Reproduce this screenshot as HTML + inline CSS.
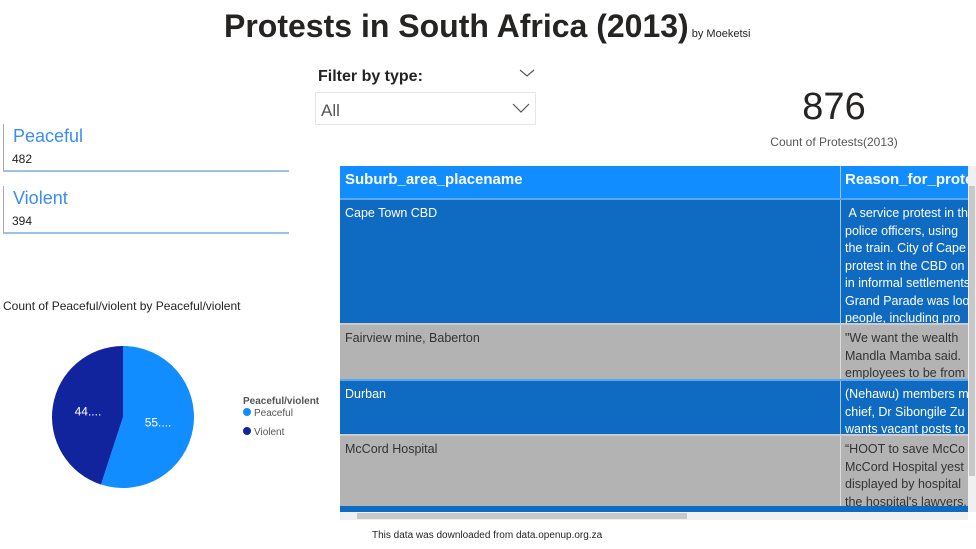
<!DOCTYPE html>
<html><head><meta charset="utf-8"><style>
body{margin:0;width:976px;height:549px;background:#fff;font-family:"Liberation Sans",sans-serif;position:relative;overflow:hidden}
.a{position:absolute}
.tbl{left:340px;top:166px;width:628px;height:346px;overflow:hidden}
.row{position:absolute;left:0;width:628px;color:#fff;font-size:12.5px;line-height:17.5px}
.c1{position:absolute;left:5px;top:5px}
.c2{position:absolute;left:505px;top:5px;white-space:nowrap;width:123px;overflow:hidden}
.div{position:absolute;left:500px;top:0;bottom:0;width:1px;background:#9fc6ec}
</style></head><body>
<div class="a" style="left:224px;top:8px;font-size:32px;font-weight:bold;color:#252423">Protests in South Africa (2013)<span style="font-size:11px;font-weight:normal"> by Moeketsi</span></div>
<div class="a" style="left:318px;top:68px;font-size:16px;font-weight:bold;color:#252423">Filter by type:</div>
<svg class="a" style="left:519px;top:68px" width="16" height="10"><polyline points="1,2 8,8 15,2" fill="none" stroke="#555" stroke-width="1.2"/></svg>
<div class="a" style="left:315px;top:92px;width:219px;height:31px;border:1px solid #e6e6e6">
<span style="position:absolute;left:5px;top:8px;font-size:17px;color:#555">All</span>
<svg style="position:absolute;left:196px;top:9px" width="18" height="12"><polyline points="1,2 9,10 17,2" fill="none" stroke="#555" stroke-width="1.2"/></svg></div>
<div class="a" style="left:770px;top:86px;width:128px;text-align:center;font-size:38px;color:#252423">876</div>
<div class="a" style="left:760px;top:135px;width:148px;text-align:center;font-size:12px;color:#555">Count of Protests(2013)</div>
<div class="a" style="left:3px;top:124px;width:285px;height:46px;border-left:1px solid #aaa;border-bottom:2px solid #9cc1e6">
<div style="position:absolute;left:9px;top:2px;font-size:18px;color:#3a8ef0">Peaceful</div><div style="position:absolute;left:8px;top:28px;font-size:12px;color:#222">482</div></div>
<div class="a" style="left:3px;top:186px;width:285px;height:46px;border-left:1px solid #aaa;border-bottom:2px solid #9cc1e6">
<div style="position:absolute;left:9px;top:2px;font-size:18px;color:#3a8ef0">Violent</div><div style="position:absolute;left:8px;top:28px;font-size:12px;color:#222">394</div></div>
<div class="a" style="left:3px;top:299px;font-size:12px;color:#252423">Count of Peaceful/violent by Peaceful/violent</div>
<svg class="a" id="pie" style="left:0;top:330px" width="340" height="180"></svg>
<div class="a tbl">
<div class="row" style="top:0;height:32px;background:#118dff;font-weight:bold;font-size:15px"><div class="c1" style="top:5px">Suburb_area_placename</div><div class="c2" style="top:5px">Reason_for_protest</div><div class="div"></div></div>
<div class="row" style="top:32px;height:124px;background:#0f6bc1;border-top:2px solid #5aa9f0"><div class="c1">Cape Town CBD</div><div class="c2">&nbsp;A service protest in the<br>police officers, using<br>the train. City of Cape<br>protest in the CBD on<br>in informal settlements<br>Grand Parade was loo<br>people, including pro</div><div class="div"></div></div>
<div class="row" style="top:157px;height:55px;background:#b3b3b3;color:#333;border-top:2px solid #ccc"><div class="c1">Fairview mine, Baberton</div><div class="c2">"We want the wealth<br>Mandla Mamba said.<br>employees to be from</div><div class="div" style="background:#ddd"></div></div>
<div class="row" style="top:213px;height:55px;background:#0f6bc1;border-top:2px solid #5aa9f0"><div class="c1">Durban</div><div class="c2">(Nehawu) members m<br>chief, Dr Sibongile Zu<br>wants vacant posts to</div><div class="div"></div></div>
<div class="row" style="top:268px;height:72px;background:#b3b3b3;color:#333;border-top:2px solid #ccc"><div class="c1">McCord Hospital</div><div class="c2">“HOOT to save McCo<br>McCord Hospital yest<br>displayed by hospital<br>the hospital's lawyers.</div><div class="div" style="background:#ddd"></div></div>
<div class="row" style="top:340px;height:6px;background:#0f6bc1"></div>
</div>
<div class="a" style="left:340px;top:512px;width:628px;height:8px;background:#f0f0f0"><div style="position:absolute;left:17px;top:1px;width:330px;height:6px;background:#c8c8c8"></div></div>
<div class="a" style="left:968px;top:166px;width:8px;height:346px;background:#f0f0f0"><div style="position:absolute;left:1px;top:20px;width:6px;height:290px;background:#c8c8c8"></div></div>
<div class="a" style="left:372px;top:530px;font-size:10px;color:#252423">This data was downloaded from data.openup.org.za</div>
<script>
const categories=["Peaceful","Violent"];
const counts=[482,394];
const colors=["#118dff","#12239e"];
const svg=document.getElementById('pie');const ns="http://www.w3.org/2000/svg";
const cx=123,cy=87,r=71;const total=counts.reduce((a,b)=>a+b,0);
let ang=0;
counts.forEach((v,i)=>{const a0=ang,a1=ang+v/total*2*Math.PI;ang=a1;
const p=(a)=>[cx+r*Math.sin(a),cy-r*Math.cos(a)];const s=p(a0),e=p(a1);
const path=document.createElementNS(ns,'path');
path.setAttribute('d',`M${cx},${cy}L${s[0]},${s[1]}A${r},${r} 0 ${a1-a0>Math.PI?1:0} 1 ${e[0]},${e[1]}Z`);
path.setAttribute('fill',colors[i]);


svg.appendChild(path);
const m=(a0+a1)/2;const t=document.createElementNS(ns,'text');
t.setAttribute('x',cx+r*0.5*Math.sin(m));t.setAttribute('y',cy-r*0.5*Math.cos(m)+4);
t.setAttribute('text-anchor','middle');t.setAttribute('fill','#fff');t.setAttribute('font-size','12');
t.textContent=Math.floor(v/total*100)+'....';


svg.appendChild(t);
const ly=86+i*19;
const lt=document.createElementNS(ns,'circle');lt.setAttribute('cx',247);lt.setAttribute('cy',ly-4);lt.setAttribute('r',4);lt.setAttribute('fill',colors[i]);


svg.appendChild(lt);
const tx=document.createElementNS(ns,'text');tx.setAttribute('x',254);tx.setAttribute('y',ly);tx.setAttribute('font-size','10');tx.setAttribute('fill','#555');tx.textContent=categories[i];


svg.appendChild(tx);
});
const lg=document.createElementNS(ns,'text');lg.setAttribute('x',243);lg.setAttribute('y',74);lg.setAttribute('font-size','10');lg.setAttribute('font-weight','bold');lg.setAttribute('fill','#555');lg.textContent='Peaceful/violent';


svg.appendChild(lg);
</script>
</body></html>
